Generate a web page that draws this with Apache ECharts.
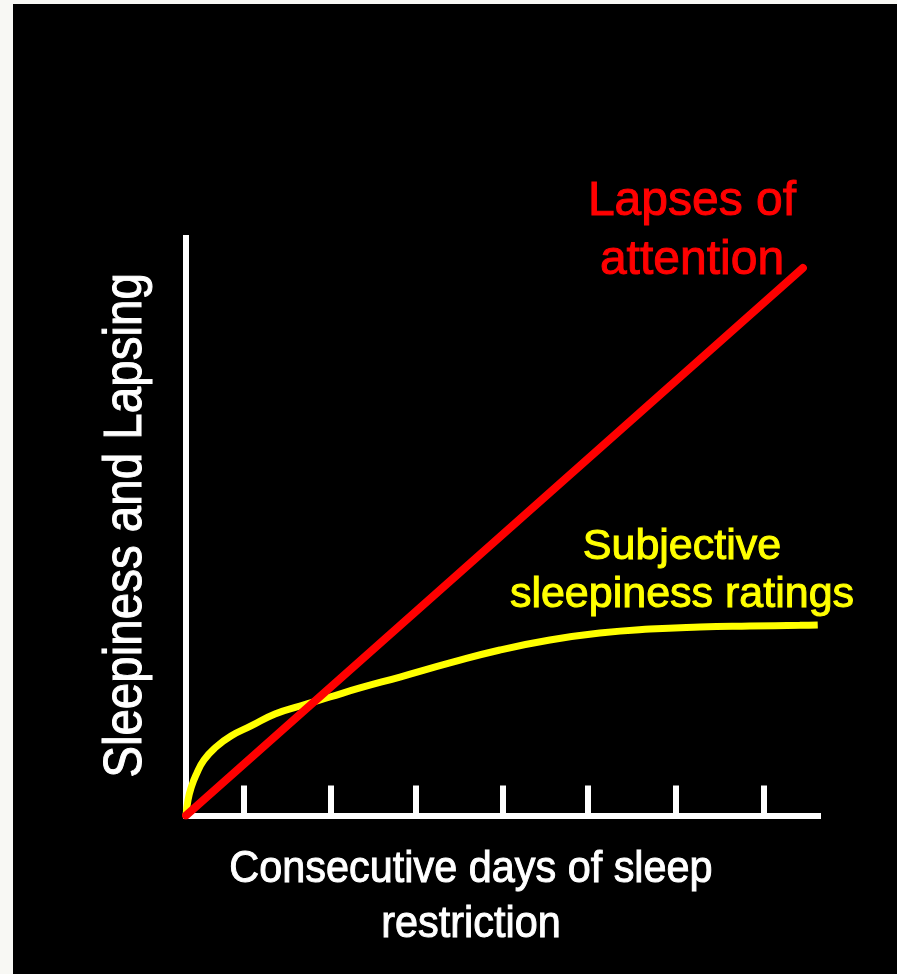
<!DOCTYPE html>
<html>
<head>
<meta charset="utf-8">
<script src="https://cdn.jsdelivr.net/npm/echarts@6/dist/echarts.min.js"></script>
<style>
  html, body { margin: 0; padding: 0; background: #f8f8f4; }
  #wrap { position: relative; width: 897px; height: 974px; background: #f8f8f4; overflow: hidden; }
  #panel { position: absolute; left: 13px; top: 4px; width: 884px; height: 970px; background: #000; }
  #chart { position: absolute; left: 0; top: 0; width: 897px; height: 974px; }
</style>
</head>
<body>
<div id="wrap">
  <div id="panel"></div>
  <div id="chart"></div>
</div>
<script>
// ---- data (x: days of sleep restriction, y: relative sleepiness / lapsing) ----
const xTickValues = [0.66, 1.67, 2.65, 3.65, 4.63, 5.64, 6.66];
const lapsesX = [0, 7.106];
const lapsesY = [0, 94.8];
const sleepinessX = [0, 0.023, 0.058, 0.115, 0.207, 0.346, 0.518, 0.749, 1.025, 1.313, 1.658, 2.004, 2.465, 3.040, 3.616, 4.191, 4.767, 5.343, 5.919, 6.495, 7.070, 7.277];
const sleepinessY = [0, 2.68, 4.76, 7.01, 9.61, 11.86, 13.77, 15.50, 17.58, 18.96, 20.52, 22.08, 23.98, 26.41, 28.66, 30.39, 31.60, 32.29, 32.64, 32.81, 32.93, 33.0];
const lapsesLabel = ['Lapses of', 'attention'];
const sleepinessLabel = ['Subjective', 'sleepiness ratings'];
const xTitle = ['Consecutive days of sleep', 'restriction'];
const yTitle = 'Sleepiness and Lapsing';

const FONT = '"Liberation Sans", Arial, sans-serif';
const zip = (xs, ys) => xs.map((x, i) => [x, ys[i]]);
const txt = (text, x, y, size, color, extra) => Object.assign({
  type: 'text', x: x, y: y,
  style: { text: text, fill: color, stroke: color, lineWidth: 1, font: size + 'px ' + FONT, textAlign: 'center', textVerticalAlign: 'middle' }
}, extra || {});

const chart = echarts.init(document.getElementById('chart'), null, { renderer: 'canvas' });
chart.setOption({
  animation: false,
  backgroundColor: 'transparent',
  grid: { left: 186, top: 238, right: 79, bottom: 158.5, containLabel: false },
  xAxis: {
    type: 'value', min: 0, max: 7.28,
    axisLine: { show: true, onZero: false, lineStyle: { color: '#ffffff', width: 6, cap: 'square' } },
    axisTick: { show: true, inside: true, length: 30, customValues: xTickValues, lineStyle: { color: '#ffffff', width: 6 } },
    axisLabel: { show: false },
    splitLine: { show: false }
  },
  yAxis: {
    type: 'value', min: 0, max: 100,
    axisLine: { show: true, onZero: false, lineStyle: { color: '#ffffff', width: 6, cap: 'square' } },
    axisTick: { show: false },
    axisLabel: { show: false },
    splitLine: { show: false }
  },
  series: [
    {
      name: 'Subjective sleepiness ratings', type: 'line', symbol: 'none', smooth: 0.5,
      data: zip(sleepinessX, sleepinessY),
      lineStyle: { color: '#ffff00', width: 7, cap: 'butt' }, z: 2
    },
    {
      name: 'Lapses of attention', type: 'line', symbol: 'none',
      data: zip(lapsesX, lapsesY),
      lineStyle: { color: '#ff0000', width: 8, cap: 'round' }, z: 3
    }
  ],
  graphic: [
    txt(lapsesLabel[0], 692, 201.4, 48, '#ff0000'),
    txt(lapsesLabel[1], 692, 260.4, 48, '#ff0000'),
    txt(sleepinessLabel[0], 682, 547.1, 43, '#ffff00'),
    txt(sleepinessLabel[1], 682, 595.1, 43, '#ffff00'),
    txt(xTitle[0], 471, 869.4, 45, '#ffffff', { scaleX: 0.92 }),
    txt(xTitle[1], 471, 924.4, 45, '#ffffff', { scaleX: 0.92 }),
    txt(yTitle, 126, 525.5, 54, '#ffffff', { rotation: Math.PI / 2, scaleX: 0.88 })
  ]
});
</script>
</body>
</html>
